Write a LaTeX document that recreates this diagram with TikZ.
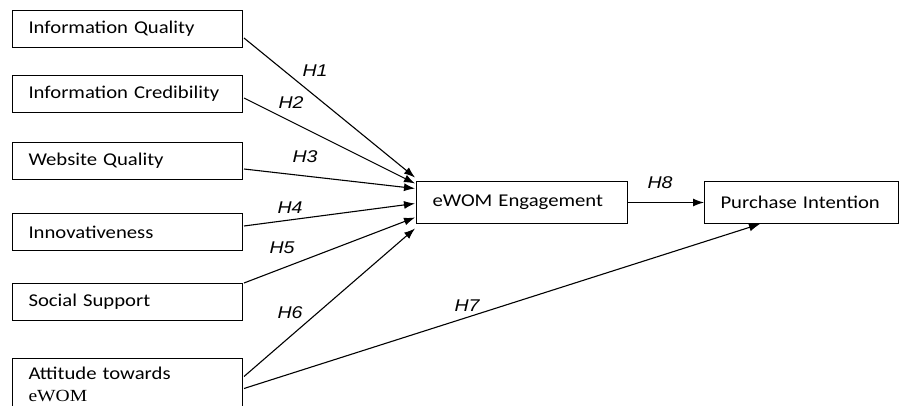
\documentclass[tikz,border=0pt]{standalone}
\usepackage{fontspec}
\setmainfont{Carlito}[FakeStretch=1.15]
\newfontfamily\labfont{Liberation Sans}[FakeStretch=1.15]
\newfontfamily\serfont{Liberation Serif}[FakeStretch=1.15]
\usetikzlibrary{arrows.meta,calc}
\begin{document}
\begin{tikzpicture}[x=1pt,y=-1pt,
  box/.style={draw=black, line width=1pt, anchor=north west, minimum height=37pt,
    text width=198pt, inner xsep=16pt, inner ysep=0pt, align=left, font=\fontsize{18}{22}\selectfont},
  conn/.style={line width=1.1pt, -{Latex[length=11pt,width=8pt]}},
  hlab/.style={font=\fontsize{17}{18}\selectfont\labfont\itshape, inner sep=0pt}]
\useasboundingbox (0,0) rectangle (899,406);
\clip (0,0) rectangle (899,406);
\node[box] (iq) at (12,10) {Information Quality};
\node[box] (ic) at (12,75) {Information Credibility};
\node[box] (wq) at (12,142) {Website Quality};
\node[box] (in) at (12,213) {Innovativeness};
\node[box] (ss) at (12,283) {Social Support};
\node[box, minimum height=52pt] (at) at (12,358) {Attitude towards\\{\serfont\fontsize{17}{22}\selectfont eWOM}};
\node[box, text width=179pt, minimum height=42pt] (eng) at (416,181) {eWOM Engagement};
\node[box, text width=162pt, minimum height=42pt] (pi) at (704,181) {Purchase Intention};
% source and target points
\coordinate (s1) at ($(iq.east)+(1,9)$);
\coordinate (s2) at ($(ic.east)+(1,4)$);
\coordinate (s3) at ($(wq.east)+(1,8)$);
\coordinate (s4) at ($(in.east)+(1,-6)$);
\coordinate (s5) at ($(ss.north east)+(1,0)$);
\coordinate (s6) at ($(at.east)+(1,-8)$);
\coordinate (s7) at ($(at.east)+(1,4)$);
\coordinate (t1) at ($(eng.west)+(-1,-25)$);
\coordinate (t2) at ($(eng.west)+(-1,-19)$);
\coordinate (t3) at ($(eng.west)+(-1,-14)$);
\coordinate (t4) at ($(eng.west)+(-1,1)$);
\coordinate (t5) at ($(eng.west)+(-1,15)$);
\coordinate (t6) at ($(eng.west)+(-1,26)$);
\coordinate (t7) at ($(pi.south west)+(56,0)$);
\draw[conn] (s1) -- (t1);
\draw[conn] (s2) -- (t2);
\draw[conn] (s3) -- (t3);
\draw[conn] (s4) -- (t4);
\draw[conn] (s5) -- (t5);
\draw[conn] (s6) -- (t6);
\draw[conn] (s7) -- (t7);
\draw[conn] (eng.east) -- (pi.west);
\node[hlab] (h1) at (315,71) {H1};
\node[hlab] (h2) at (291,103) {H2};
\node[hlab] (h3) at (305,157) {H3};
\node[hlab] (h4) at (290,208) {H4};
\node[hlab] (h5) at (282,248) {H5};
\node[hlab] (h6) at (290,313) {H6};
\node[hlab] (h7) at (467,306) {H7};
\node[hlab] (h8) at (660,183) {H8};
\end{tikzpicture}
\end{document}
